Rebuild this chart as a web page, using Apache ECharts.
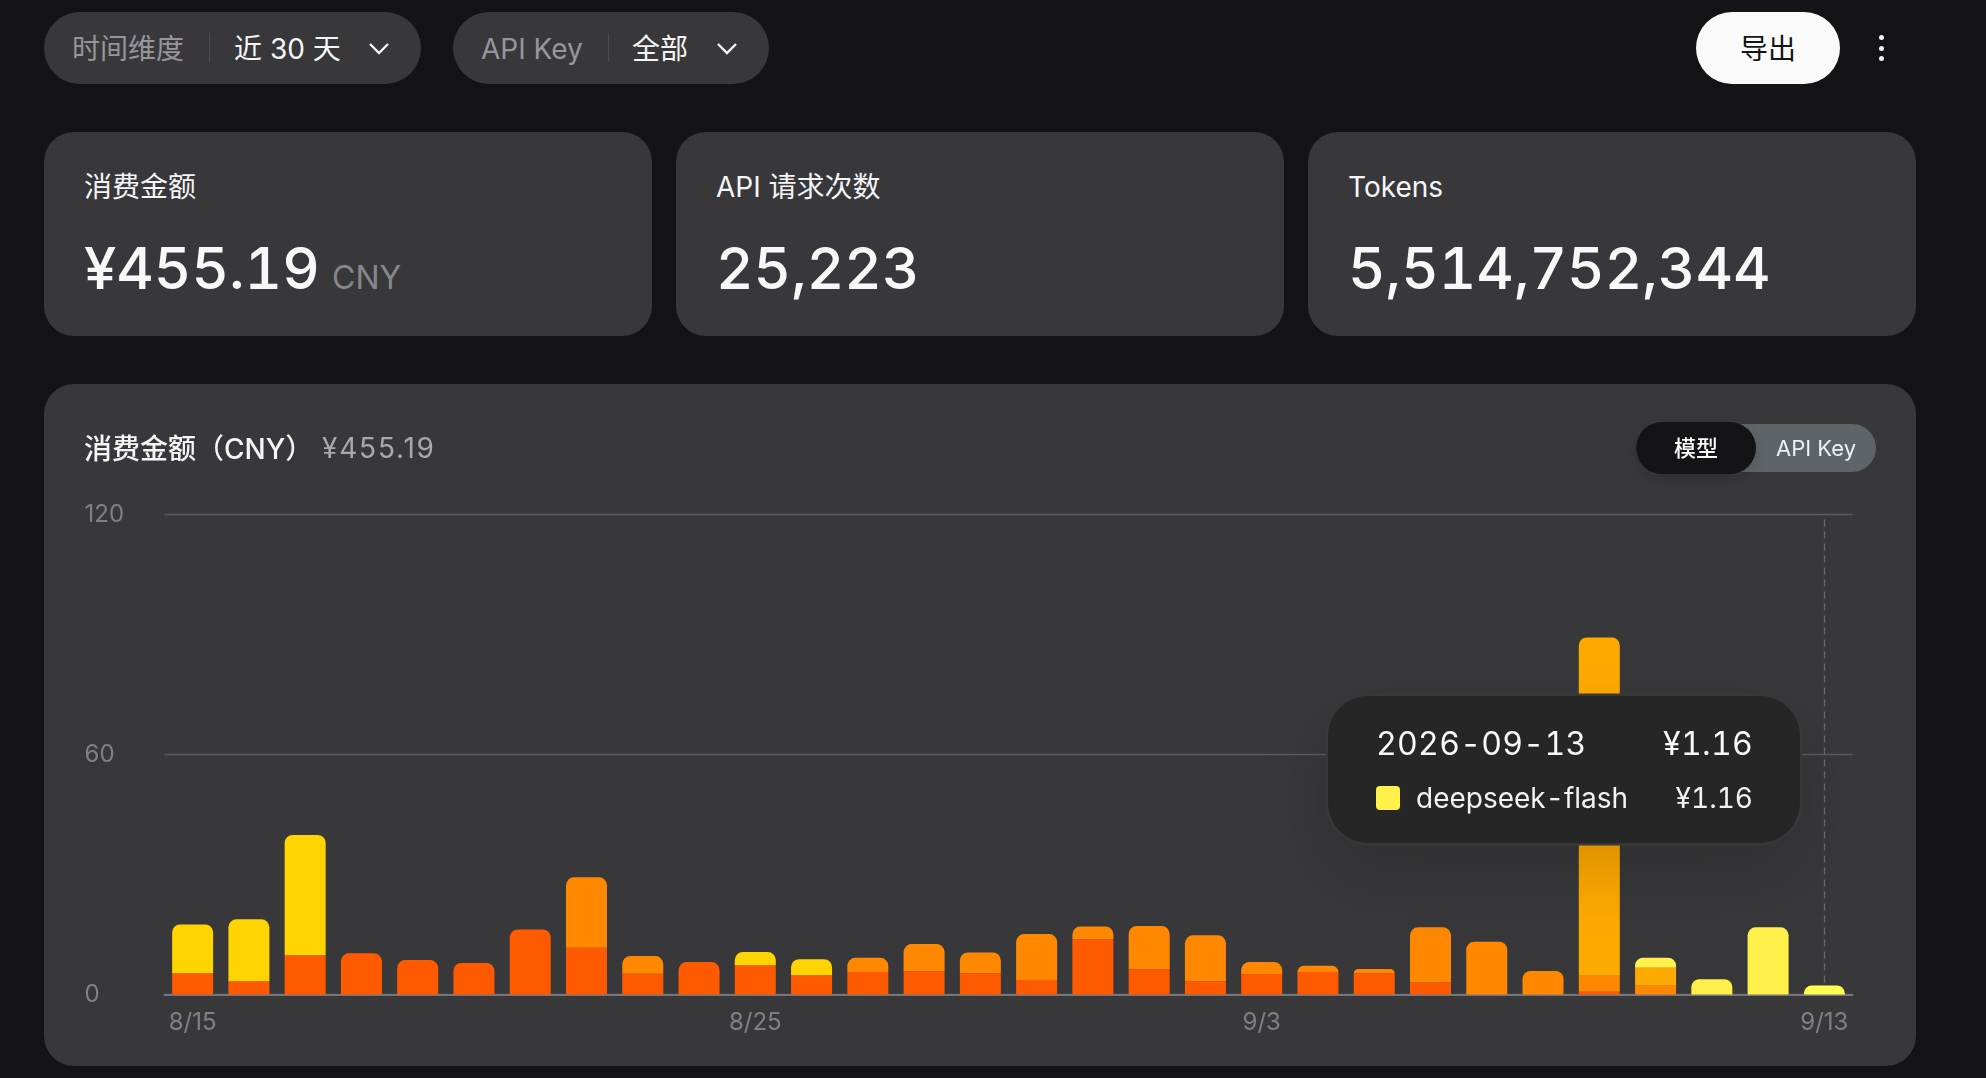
<!DOCTYPE html>
<html>
<head>
<meta charset="utf-8">
<title>用量</title>
<script src="https://cdn.jsdelivr.net/npm/echarts@6/dist/echarts.min.js"></script>
<style>
    html, body { margin: 0; padding: 0; background: #141416; width: 1986px; height: 1078px; overflow: hidden; }
    body { position: relative; font-family: Inter, "Noto Sans CJK SC", sans-serif; color: #f5f5f7; }
    .box, .txt, svg, .dot { position: absolute; }
    .txt { white-space: nowrap; line-height: 40px; height: 40px; }
    .pill { background: #38383a; border-radius: 36px; top: 12px; height: 72px; }
    .sep { background: #4c4c50; width: 1px; top: 33px; height: 29px; }
    .card { background: #38383a; border-radius: 30px; top: 132px; height: 204px; width: 608px; }
    .muted { color: #96969b; font-size: 28px; }
    .head { font-size: 28px; top: 167px; }
    .big { font-size: 58px; font-weight: 500; letter-spacing: 0; top: 248px; line-height: 40px; color: #f8f8fa; font-variant-numeric: tabular-nums; }
    .dot { width: 5px; height: 5px; border-radius: 50%; background: #f2f2f4; left: 1879px; }
    #main { position: absolute; left: 44px; top: 384px; width: 1872px; height: 682px; }
</style>
</head>
<body>
    <div class="box pill" style="left:44px;width:377px"></div>
    <div class="txt muted" style="left:72px;top:29px">时间维度</div>
    <div class="box sep" style="left:209px"></div>
    <div class="txt" style="left:234px;top:29px;font-size:28px">近 30 天</div>
    <svg style="left:368px;top:42px" width="22" height="13"><polyline points="2,2 11,11 20,2" fill="none" stroke="#f5f5f7" stroke-width="2.4"/></svg>

    <div class="box pill" style="left:453px;width:316px"></div>
    <div class="txt muted" style="left:481px;top:29px">API Key</div>
    <div class="box sep" style="left:608px"></div>
    <div class="txt" style="left:632px;top:29px;font-size:28px">全部</div>
    <svg style="left:716px;top:42px" width="22" height="13"><polyline points="2,2 11,11 20,2" fill="none" stroke="#f5f5f7" stroke-width="2.4"/></svg>

    <div class="box" style="left:1696px;top:12px;width:144px;height:72px;border-radius:36px;background:#fafafa"></div>
    <div class="txt" style="left:1740px;top:29px;font-size:28px;color:#141416">导出</div>
    <div class="dot" style="top:35px"></div>
    <div class="dot" style="top:46px"></div>
    <div class="dot" style="top:56px"></div>

    <div class="box card" style="left:44px"></div>
    <div class="txt head" style="left:84px">消费金额</div>
    <div class="txt big" style="left:84px">¥455.19</div>
    <div class="txt" style="left:332px;top:258px;font-size:32px;color:#85878c">CNY</div>

    <div class="box card" style="left:676px"></div>
    <div class="txt head" style="left:716px">API 请求次数</div>
    <div class="txt big" style="left:716px">25,223</div>

    <div class="box card" style="left:1308px"></div>
    <div class="txt head" style="left:1348px">Tokens</div>
    <div class="txt big" style="left:1348px">5,514,752,344</div>

    <div class="box" style="left:44px;top:384px;width:1872px;height:682px;background:#38383a;border-radius:30px"></div>
    <div id="main"></div>
    <div class="txt" style="left:84px;top:429px;font-size:28px;font-weight:500">消费金额（CNY）</div>
    <div class="txt" style="left:322px;top:428px;font-size:28px;color:#a8a8ac;letter-spacing:1.8px">¥455.19</div>

    <div class="box" style="left:1636px;top:424px;width:240px;height:48px;border-radius:24px;background:#5f6468"></div>
    <div class="box" style="left:1636px;top:422px;width:120px;height:52px;border-radius:26px;background:#141416;box-shadow:0 6px 14px rgba(0,0,0,.12)"></div>
    <div class="txt" style="left:1674px;top:428px;font-size:22px;font-weight:500;color:#fafafa">模型</div>
    <div class="txt" style="left:1776px;top:428px;font-size:22px;color:#f0f0f2">API Key</div>

<script>
    const categories = ['8/15', '8/16', '8/17', '8/18', '8/19', '8/20', '8/21', '8/22', '8/23', '8/24',
        '8/25', '8/26', '8/27', '8/28', '8/29', '8/30', '8/31', '9/1', '9/2', '9/3',
        '9/4', '9/5', '9/6', '9/7', '9/8', '9/9', '9/10', '9/11', '9/12', '9/13'];
    const tickLabels = ['8/15', '8/25', '9/3', '9/13'];

    // 从下往上堆叠
    const redValues = [5.33, 3.33, 9.83, 10.3, 8.6, 7.9, 16.25, 11.7, 5.2, 8.1,
        7.33, 4.83, 5.6, 5.83, 5.33, 3.6, 13.8, 6.33, 3.33, 5.1,
        5.6, 5.3, 3, null, null, 0.67, null, null, null, null];
    const orangeValues = [null, null, null, null, null, null, null, 17.6, 4.4, null,
        null, null, 3.57, 6.77, 5.17, 11.5, 3.2, 10.77, 11.47, 3,
        1.57, 1.1, 13.8, 13.2, 5.9, 4, 2.2, null, null, null];
    const goldValues = [12.17, 15.47, 30.07, null, null, null, null, null, null, null,
        3.27, 4, null, null, null, null, null, null, null, null,
        null, null, null, null, null, null, null, null, null, null];
    const amberValues = [null, null, null, null, null, null, null, null, null, null,
        null, null, null, null, null, null, null, null, null, null,
        null, null, null, null, null, 84.58, 4.47, null, null, null];
    const flashValues = [null, null, null, null, null, null, null, null, null, null,
        null, null, null, null, null, null, null, null, null, null,
        null, null, null, null, null, null, 2.53, 3.83, 16.8, 1.16];

    const seriesList = [
        { name: 'model-a', color: '#FF5A00', values: redValues },
        { name: 'model-b', color: '#FF8800', values: orangeValues },
        { name: 'model-c', color: '#FFD400', values: goldValues },
        { name: 'model-d', color: '#FFAA00', values: amberValues },
        { name: 'deepseek-flash', color: '#FFF04A', values: flashValues }
    ];

    const tooltipDate = '2026-09-13';
    const tooltipIndex = categories.indexOf('9/13');

    // 只有每根柱子最上面一段是圆角
    function isTop(seriesIndex, i) {
        for (let s = seriesIndex + 1; s < seriesList.length; s++) {
            if (seriesList[s].values[i] != null) return false;
        }
        return true;
    }

    const myChart = echarts.init(document.getElementById('main'));
    myChart.setOption({
        animation: false,
        backgroundColor: 'transparent',
        textStyle: { fontFamily: 'Inter, "Noto Sans CJK SC", sans-serif' },
        grid: { left: 120.5, right: 63.5, top: 130.5, bottom: 71.5 },
        tooltip: {
            trigger: 'axis',
            alwaysShowContent: true,
            transitionDuration: 0,
            position: [1284, 312],
            padding: 0,
            borderWidth: 0,
            backgroundColor: 'transparent',
            extraCssText: 'box-shadow:none;',
            axisPointer: {
                type: 'line',
                z: 1,
                label: { show: false },
                lineStyle: { color: '#6c6c70', width: 1.3, type: [7, 5] }
            },
            formatter: function (params) {
                const rows = params.filter(p => p.value != null);
                const total = rows.reduce((a, p) => a + p.value, 0);
                let html = '<div style="box-sizing:border-box;width:472px;height:147px;padding:27px 47px 0 48px;border-radius:40px;background:#262627;' +
                    'box-shadow:0 0 0 2.5px #38383a,0 30px 70px rgba(0,0,0,.16);font-family:Inter,sans-serif;color:#f8f8fa;font-variant-numeric:tabular-nums;">' +
                    '<div style="display:flex;justify-content:space-between;font-size:32px;line-height:42px;letter-spacing:.3px;">' +
                    '<span>' + tooltipDate + '</span><span>¥' + total.toFixed(2) + '</span></div>';
                rows.forEach(function (p) {
                    html += '<div style="display:flex;align-items:center;margin-top:13px;font-size:28px;line-height:40px;color:#f2f2f4;">' +
                        '<span style="width:24px;height:24px;border-radius:4px;background:' + p.color + ';margin-right:16px;"></span>' +
                        '<span style="flex:1;">' + p.seriesName + '</span><span>¥' + p.value.toFixed(2) + '</span></div>';
                });
                return html + '</div>';
            }
        },
        xAxis: {
            type: 'category',
            data: categories,
            axisTick: { show: false },
            axisLine: { lineStyle: { color: '#77777b', width: 2 } },
            axisLabel: {
                color: '#808084',
                fontSize: 24,
                margin: 16,
                hideOverlap: false,
                interval: function (i, value) { return tickLabels.includes(value); }
            }
        },
        yAxis: {
            type: 'value',
            min: 0,
            max: 120,
            interval: 60,
            axisLine: { show: false },
            axisTick: { show: false },
            axisLabel: { color: '#808084', fontSize: 24, margin: 80, align: 'left', padding: [4, 0, 0, 0] },
            splitLine: { lineStyle: { color: '#5c5c60', width: 1.3 } }
        },
        series: seriesList.map(function (s, seriesIndex) {
            return {
                name: s.name,
                type: 'bar',
                stack: 'total',
                z: 3,
                barWidth: 41,
                // 最后一天的柱子比数值高，图上有最小高度
                barMinHeight: s.name === 'deepseek-flash' ? 9 : 0,
                itemStyle: { color: s.color },
                data: s.values.map(function (v, i) {
                    return {
                        value: v,
                        itemStyle: { borderRadius: isTop(seriesIndex, i) ? [8, 8, 0, 0] : 0 }
                    };
                })
            };
        })
    });

    myChart.dispatchAction({ type: 'showTip', seriesIndex: seriesList.length - 1, dataIndex: tooltipIndex });
</script>
</body>
</html>
